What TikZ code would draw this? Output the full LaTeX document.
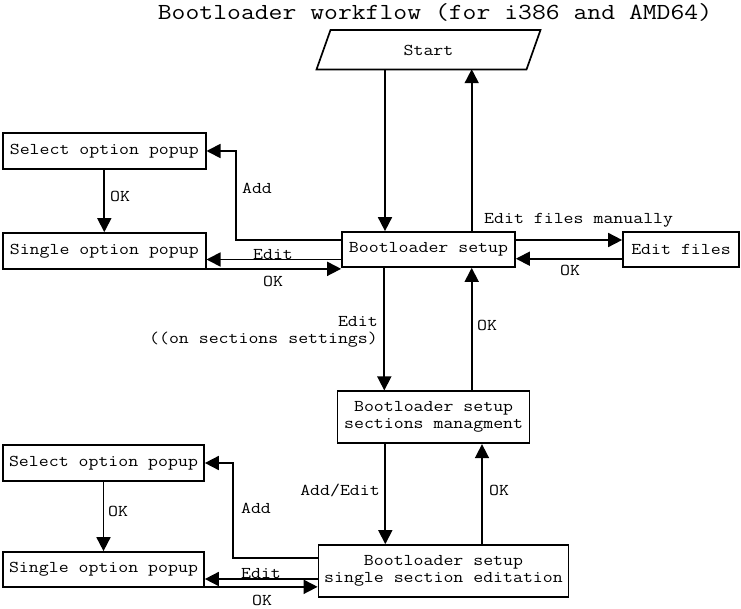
\documentclass[tikz,border=0pt]{standalone}
\usepackage{fontspec}
\setmainfont[FakeStretch=1.17]{Latin Modern Mono}
\usetikzlibrary{arrows.meta,calc}
\begin{document}
\begin{tikzpicture}[x=1pt,y=-1pt,
  every node/.style={font=\fontsize{16.5}{17}\selectfont, inner sep=0pt},
  box/.style={draw, line width=1.7pt, align=center},
  conn/.style={line width=1.7pt, -{Triangle[length=14pt,width=14pt]}}]
\useasboundingbox (0,0) rectangle (741,609);
\node[font=\fontsize{23}{23}\selectfont] (title) at (435,12) {Bootloader workflow (for i386 and AMD64)};
% nodes
\node[minimum width=205, minimum height=38] (start) at (428.5,50) {Start};
\draw[line width=1.7pt] (316.5,69.5) -- (330.5,30) -- (540.5,30) -- (526.5,69.5) -- cycle;
\node[box, minimum width=173, minimum height=35] (bs) at (428.5,249.5) {Bootloader setup};
\node[box, minimum width=116, minimum height=35] (ef) at (681,249.5) {Edit files};
\node[box, minimum width=202.7, minimum height=36] (sel1) at (104.3,151) {Select option popup};
\node[box, minimum width=202.7, minimum height=36] (sin1) at (104.3,251) {Single option popup};
\node[box, minimum width=192, minimum height=52] (sm) at (433.6,417.3) {Bootloader setup\\sections managment};
\node[box, minimum width=201, minimum height=36] (sel2) at (103.5,463) {Select option popup};
\node[box, minimum width=201, minimum height=35] (sin2) at (103.5,569.5) {Single option popup};
\node[box, minimum width=250, minimum height=52] (ss) at (443.5,571) {Bootloader setup\\single section editation};
% waypoints
\coordinate (a1) at (236,0);
\coordinate (a2) at (233,0);
% top part
\draw[conn] ([xshift=-43.5pt]start.south) -- ([xshift=-43.5pt]bs.north);
\draw[conn] ([xshift=43.2pt]bs.north) -- ([xshift=43.2pt]start.south);
\draw[conn] ([yshift=9.5pt]bs.east) -- ([yshift=9.5pt]ef.west);
\draw[conn] ([yshift=-9.2pt]ef.west) -- ([yshift=-9.2pt]bs.east);
\node[anchor=west] (lefm) at (484,220) {Edit files manually};
\node (lok1) at (570,270) {OK};
\draw[conn] ([yshift=9.5pt]bs.west) -- ([yshift=9.5pt]bs.west -| a1) |- (sel1.east);
\node (ladd1) at (257,188) {Add};
\draw[conn] ([yshift=-10pt]bs.west) -- ([yshift=-10pt]bs.west -| sin1.east);
\node (ledit1) at (273,255) {Edit};
\draw[conn] ([yshift=1pt]sin1.south east) -- ([yshift=1pt]sin1.south east -| bs.west);
\node (lok2) at (273,281) {OK};
\draw[conn] (sel1.south) -- (sin1.north);
\node (lok3) at (120,196) {OK};
% middle
\draw[conn] ([xshift=-44.2pt]bs.south) -- ([xshift=-44.2pt]bs.south |- sm.north);
\node[anchor=east, align=right] (ledit2) at (378,332) {Edit\\((on sections settings)};
\draw[conn] ([xshift=43.2pt]bs.south |- sm.north) -- ([xshift=43.2pt]bs.south);
\node (lok4) at (487,325) {OK};
\draw[conn] ([xshift=-48.3pt]sm.south) -- ([xshift=-48.3pt]sm.south |- ss.north);
\node[anchor=east] (laddedit) at (380,490) {Add/Edit};
\draw[conn] ([xshift=48.4pt]sm.south |- ss.north) -- ([xshift=48.4pt]sm.south);
\node (lok5) at (499,490) {OK};
% bottom
\draw[conn] ([yshift=13.3pt]ss.west) -- ([yshift=13.3pt]ss.west -| a2) |- (sel2.east);
\node (ladd2) at (256,508) {Add};
\draw[conn] ([yshift=-8pt]ss.west) -- ([yshift=-8pt]ss.west -| sin2.east);
\node (ledit3) at (261,574) {Edit};
\draw[conn] ([yshift=1pt]sin2.south east) -- ([yshift=1pt]sin2.south east -| ss.west);
\node (lok6) at (262,600) {OK};
\draw[conn] (sel2.south) -- (sin2.north);
\node (lok7) at (118,511) {OK};
\end{tikzpicture}
\end{document}
